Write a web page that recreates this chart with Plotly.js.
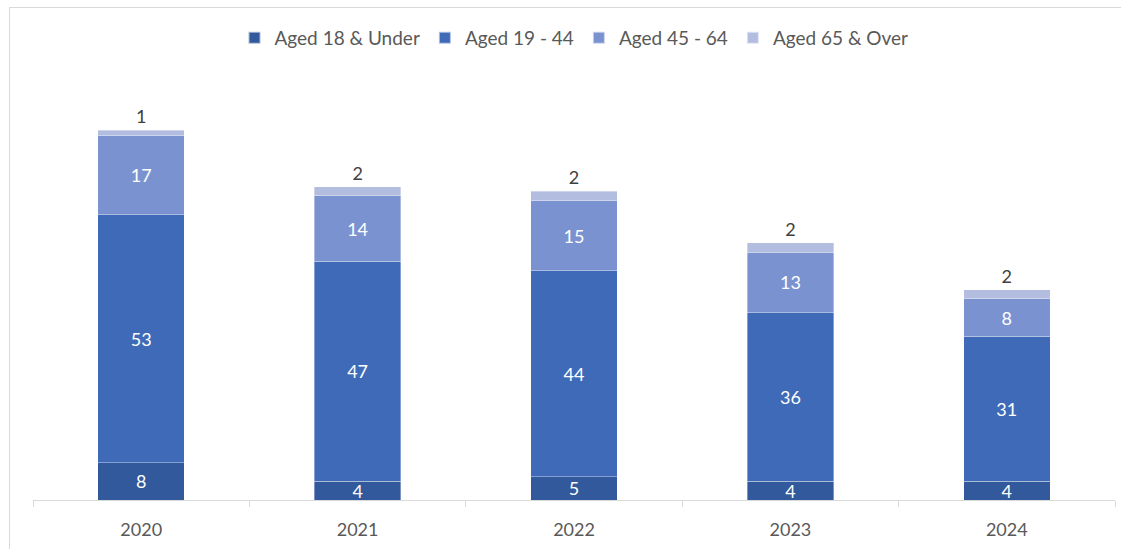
<!DOCTYPE html>
<html>
<head>
<meta charset="utf-8">
<script src="https://cdn.plot.ly/plotly-3.0.1.min.js"></script>
<style>html,body{margin:0;padding:0;background:#fff;}#chart{width:1121px;height:549px;}</style>
</head>
<body>
<div id="chart"></div>
<script>
const years = ["2020", "2021", "2022", "2023", "2024"];
const seriesNames = ["Aged 18 & Under", "Aged 19 - 44", "Aged 45 - 64", "Aged 65 & Over"];
const aged18Under = [8, 4, 5, 4, 4];
const aged19to44 = [53, 47, 44, 36, 31];
const aged45to64 = [17, 14, 15, 13, 8];
const aged65Over = [1, 2, 2, 2, 2];

const colors = ["#31599B", "#3F6AB8", "#7A93D0", "#B3BDE0"];
const values = [aged18Under, aged19to44, aged45to64, aged65Over];
const FONT = "Lato, 'Open Sans', sans-serif";

const traces = values.map((v, i) => {
  const top = i === values.length - 1;
  return {
    type: "bar",
    name: seriesNames[i],
    x: years,
    y: v,
    text: v.map(String),
    texttemplate: "%{text}",
    textposition: top ? "outside" : "inside",
    insidetextanchor: "middle",
    textangle: 0,
    constraintext: "none",
    cliponaxis: false,
    textfont: {family: FONT, size: 18, color: top ? "#404040" : "#FFFFFF"},
    marker: {color: colors[i], line: {color: "rgba(255,255,255,0.6)", width: 0.6}},
    hoverinfo: "skip"
  };
});

const W = 1121, H = 549;
const m = {l: 33, r: 6, t: 79, b: 49};
const pw = W - m.l - m.r, ph = H - m.t - m.b;
const px2x = p => (p - m.l) / pw;
const py2y = p => (H - m.b - p) / ph;

const layout = {
  width: W, height: H,
  margin: m,
  paper_bgcolor: "#FFFFFF",
  plot_bgcolor: "#FFFFFF",
  barmode: "stack",
  bargap: 0.6,
  font: {family: FONT, size: 18, color: "#595959"},
  showlegend: true,
  legend: {
    orientation: "h",
    x: 0.5, xanchor: "center",
    y: py2y(38), yanchor: "middle",
    traceorder: "normal",
    font: {family: FONT, size: 19, color: "#595959"},
    itemwidth: 30,
    itemsizing: "constant"
  },
  xaxis: {
    type: "category",
    showline: true, linecolor: "#D9D9D9", linewidth: 1,
    ticks: "outside", tickson: "boundaries", ticklen: 6, tickcolor: "#D9D9D9", tickwidth: 1,
    ticklabelstandoff: 13,
    showgrid: false, zeroline: false,
    tickfont: {family: FONT, size: 18, color: "#595959"},
    fixedrange: true
  },
  yaxis: {
    range: [0, 90],
    visible: false,
    showgrid: false, zeroline: false,
    fixedrange: true
  },
  shapes: [
    {type: "line", xref: "paper", yref: "paper", x0: px2x(9.5), x1: px2x(1130), y0: py2y(7.5), y1: py2y(7.5), line: {color: "#D9D9D9", width: 1}},
    {type: "line", xref: "paper", yref: "paper", x0: px2x(9.5), x1: px2x(9.5), y0: py2y(7.5), y1: py2y(560), line: {color: "#D9D9D9", width: 1}}
  ]
};

Plotly.newPlot("chart", traces, layout, {displayModeBar: false, staticPlot: true});
</script>
</body>
</html>
